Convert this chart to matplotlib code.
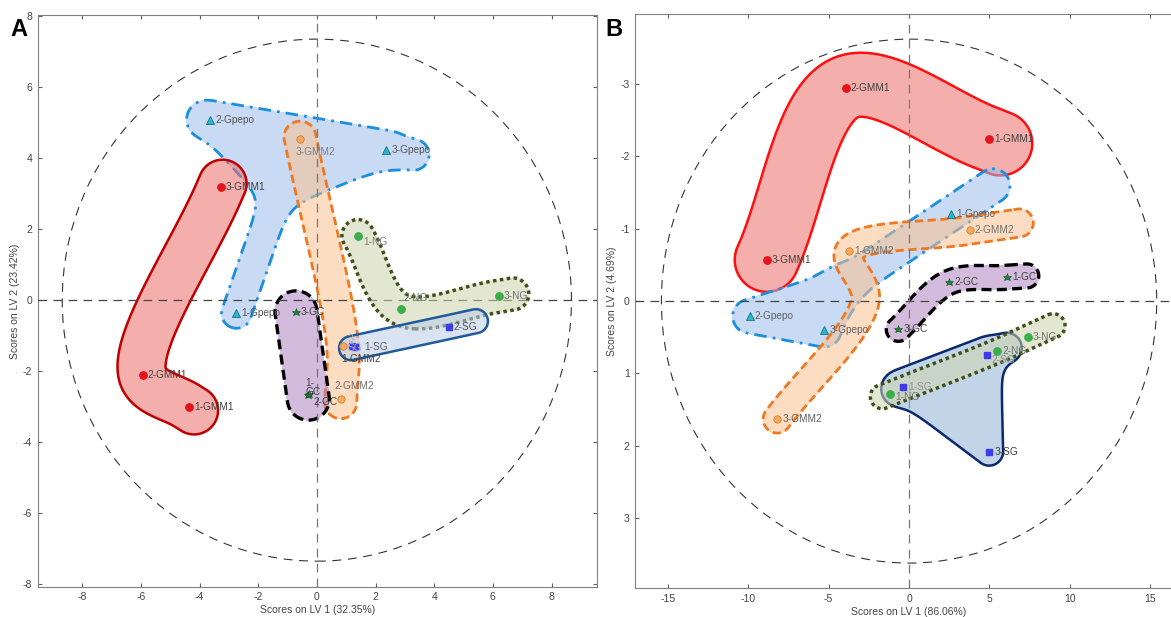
import numpy as np
import matplotlib
matplotlib.use("Agg")
import matplotlib.pyplot as plt
from matplotlib.patches import Ellipse
from matplotlib.path import Path

plt.rcParams['font.family'] = ['Liberation Sans', 'DejaVu Sans']
plt.rcParams['axes.unicode_minus'] = False

# ---- data ----
labels = ['1-GMM1', '2-GMM1', '3-GMM1', '1-GMM2', '2-GMM2', '3-GMM2',
          '1-Gpepo', '2-Gpepo', '3-Gpepo', '1-GC', '2-GC', '3-GC',
          '1-NG', '2-NG', '3-NG', '1-SG', '2-SG', '3-SG']

A_x = [-4.36, -5.94, -3.27, 0.88, 0.82, -0.56,
       -2.74, -3.64, 2.37, -0.31, -0.26, -0.71,
       1.40, 2.86, 6.21, 1.30, 4.49, 1.20]
A_y = [-3.02, -2.12, 3.18, -1.30, -2.78, 4.54,
       -0.37, 5.07, 4.23, -2.68, -2.64, -0.33,
       1.82, -0.26, 0.11, -1.33, -0.76, -1.30]

B_x = [4.98, -3.94, -8.85, -3.73, 3.78, -8.20,
       2.63, -9.91, -5.28, 6.08, 2.49, -0.67,
       -1.20, 5.48, 7.37, -0.35, 4.84, 4.98]
B_y = [-2.24, -2.95, -0.57, -0.69, -0.98, 1.63,
       -1.21, 0.21, 0.40, -0.33, -0.26, 0.39,
       1.28, 0.69, 0.50, 1.19, 0.75, 2.08]

A_ellipse = (8.68, 7.36)
B_ellipse = (15.4, 3.62)

A_xlabel = 'Scores on LV 1 (32.35%)'
A_ylabel = 'Scores on LV 2 (23.42%)'
B_xlabel = 'Scores on LV 1 (86.06%)'
B_ylabel = 'Scores on LV 2 (4.69%)'

# how each group outline runs through its samples ('mean' = group centre,
# a list that ends where it starts is a filled polygon)
A_paths = {'Gpepo': [['2-Gpepo', '3-Gpepo'],
                     ['2-Gpepo', '3-Gpepo', 'mean', '2-Gpepo'],
                     ['mean', '1-Gpepo']],
           'GMM1': [['3-GMM1', '2-GMM1', '1-GMM1']],
           'GMM2': [['3-GMM2', '1-GMM2', '2-GMM2']],
           'GC': [['3-GC', '1-GC']],
           'NG': [['1-NG', '2-NG', '3-NG']],
           'SG': [['1-SG', '2-SG']]}
B_paths = {'GMM1': [['3-GMM1', '2-GMM1', '1-GMM1']],
           'Gpepo': [['mean', '1-Gpepo'],
                     ['2-Gpepo', '3-Gpepo', 'mean', '2-Gpepo']],
           'GMM2': [['3-GMM2', 'mean', '1-GMM2', '2-GMM2']],
           'GC': [['3-GC', '2-GC', '1-GC']],
           'SG': [['1-SG', '2-SG'], ['1-SG', '2-SG', '3-SG', '1-SG']],
           'NG': [['1-NG', '2-NG', '3-NG']]}

# ---- styles ----
MARK = {
    'GMM1': dict(marker='o', ms=5.3, mfc='#e3141b', mec='#e3141b'),
    'GMM2': dict(marker='o', ms=5.3, mfc='#f6a95c', mec='#c8843a', mew=0.6),
    'Gpepo': dict(marker='^', ms=5.3, mfc='#2cb8cc', mec='#176f86', mew=0.6),
    'GC': dict(marker='*', ms=6.2, mfc='#1e8a36', mec='#0d4a1a', mew=0.4),
    'NG': dict(marker='o', ms=5.3, mfc='#3aae4a', mec='#3aae4a'),
    'SG': dict(marker='s', ms=4.6, mfc='#3c3cea', mec='#3c3cea'),
}

DASHDOT = (0, (4.5, 2.2, 1.0, 2.2))
DASHED = (0, (3, 1.6))
DOTTED = (0, (1, 1))

# radius px, fill, edge, linestyle, lw, end extension px (start, end)
A_blob = {
    'Gpepo': (15, '#9bbcec', '#1a8fe0', DASHDOT, 2.0, (6, 28)),
    'GMM1': (24, '#ec6e69', '#c00000', 'solid', 1.8, (4, 6)),
    'GMM2': (16, '#fcc290', '#f07820', DASHED, 2.0, (2, 4)),
    'GC': (21, '#b083c2', '#000000', DASHED, 2.4, (0, 4)),
    'NG': (16, '#cdd5ad', '#3f4f1a', DOTTED, 2.5, (0, 14)),
    'SG': (12, '#bccde9', '#1f5a9a', 'solid', 1.8, (4, 28)),
}
B_blob = {
    'GMM1': (32, '#ec6e69', '#ff1010', 'solid', 1.8, (0, 12)),
    'Gpepo': (17, '#9bbcec', '#1a8fe0', DASHDOT, 2.0, (0, 50)),
    'GMM2': (14, '#fcc290', '#f07820', DASHED, 2.0, (0, 50)),
    'GC': (12, '#b083c2', '#000000', DASHED, 2.4, (0, 20)),
    'SG': (14, '#91b1d6', '#0b2a6e', 'solid', 1.8, (6, 22)),
    'NG': (12, '#cdd5ad', '#3f4f1a', DOTTED, 2.5, (8, 28)),
}

# label offsets in pixels: (dx, dy-down)
A_off = {'3-GMM2': (-5, 13), '1-GMM2': (-1, 13), '2-GMM2': (-6, -12.5),
         '1-NG': (5, 6), '2-NG': (3, -11), '1-SG': (9, 0),
         '1-GC': (-2, -7.5), '2-GC': (4, 8), '3-SG': (-4, -3)}
B_off = {'2-SG': (4.5, 5), '1-NG': (6, 3.5)}
A_text = {'1-GC': '1-\nGC', '3-SG': '3-\nSG'}
A_col = {'3-GMM2': '#808080', '1-NG': '#808080', '2-NG': '#707070',
         '3-NG': '#707070', '2-GMM2': '#707070', '1-Gpepo': '#555555',
         '2-Gpepo': '#555555', '3-Gpepo': '#555555', '3-SG': '#b0b0b0',
         '1-SG': '#606060', '2-SG': '#555555'}
B_col = {'2-SG': '#909090', '1-SG': '#909090', '1-NG': '#707070',
         '2-NG': '#707070', '3-NG': '#707070', '1-Gpepo': '#606060',
         '2-Gpepo': '#606060', '3-Gpepo': '#606060', '2-GMM2': '#707070',
         '1-GMM2': '#707070', '3-GMM2': '#606060'}

W, H = 1171, 617
fig = plt.figure(figsize=(W / 100, H / 100), dpi=100)


def px_axes(l, t, r, b):
    return fig.add_axes([l / W, 1 - b / H, (r - l) / W, (b - t) / H])


def spline(P, n=40, alpha=0.5):
    # centripetal Catmull-Rom through the points (pixel space)
    if len(P) == 2:
        return np.vstack([P[0] + (P[1] - P[0]) * s for s in np.linspace(0, 1, n)])
    Q = np.vstack([2 * P[0] - P[1], P, 2 * P[-1] - P[-2]])
    out = []
    for i in range(len(Q) - 3):
        p0, p1, p2, p3 = Q[i:i + 4]
        t0 = 0.0
        t1 = t0 + np.hypot(*(p1 - p0)) ** alpha + 1e-6
        t2 = t1 + np.hypot(*(p2 - p1)) ** alpha + 1e-6
        t3 = t2 + np.hypot(*(p3 - p2)) ** alpha + 1e-6
        t = np.linspace(t1, t2, n)[:, None]
        A1 = (t1 - t) / (t1 - t0) * p0 + (t - t0) / (t1 - t0) * p1
        A2 = (t2 - t) / (t2 - t1) * p1 + (t - t1) / (t2 - t1) * p2
        A3 = (t3 - t) / (t3 - t2) * p2 + (t - t2) / (t3 - t2) * p3
        B1 = (t2 - t) / (t2 - t0) * A1 + (t - t0) / (t2 - t0) * A2
        B2 = (t3 - t) / (t3 - t1) * A2 + (t - t1) / (t3 - t1) * A3
        out.append((t2 - t) / (t2 - t1) * B1 + (t - t1) / (t2 - t1) * B2)
    return np.vstack(out)


def seg_dist(G, C):
    best = np.full(len(G), np.inf)
    for a, b in zip(C[:-1], C[1:]):
        ab = b - a
        L = ab @ ab
        if L < 1e-9:
            continue
        t = np.clip(((G - a) @ ab) / L, 0, 1)
        d = np.hypot(*(G - (a + t[:, None] * ab)).T)
        best = np.minimum(best, d)
    return best


def blob(ax, lines, r, fc, ec, ls, lw, ext, z, k=7.0):
    x0, x1 = sorted(ax.get_xlim())
    y0, y1 = sorted(ax.get_ylim())
    X, Y = np.meshgrid(np.linspace(x0, x1, 420), np.linspace(y0, y1, 420))
    G = ax.transData.transform(np.column_stack([X.ravel(), Y.ravel()]))
    acc = np.zeros(len(G))
    for j, (xs, ys, closed) in enumerate(lines):
        P = ax.transData.transform(np.column_stack([xs, ys]))
        if closed:
            d = seg_dist(G, P)
            d[Path(P).contains_points(G)] = 0.0
        else:
            C = spline(P)
            if j == 0:
                d0 = C[0] - C[3]
                C = np.vstack([C[0] + d0 / np.hypot(*d0) * ext[0], C])
                d1 = C[-1] - C[-4]
                C = np.vstack([C, C[-1] + d1 / np.hypot(*d1) * ext[1]])
            d = seg_dist(G, C)
        acc += np.exp(-d / k)
    Z = (-k * np.log(acc + 1e-300)).reshape(X.shape)
    ax.contourf(X, Y, Z, levels=[-1e9, r], colors=[fc], alpha=0.55, zorder=z)
    ax.contour(X, Y, Z, levels=[r], colors=[ec], linestyles=[ls],
               linewidths=lw, zorder=z + 0.5)


def panel(ax, xs, ys, ell, paths, blobs, off, texts, cols):
    ax.add_patch(Ellipse((0, 0), 2 * ell[0], 2 * ell[1], fill=False,
                         ec='#333333', lw=0.8, ls=(0, (8, 6)), zorder=1))
    ax.axhline(0, color='#444444', lw=0.9, ls=(0, (7, 5)), zorder=6)
    ax.axvline(0, color='#777777', lw=0.9, ls=(0, (7, 5)), zorder=6)
    idx = {lab: i for i, lab in enumerate(labels)}
    for n, (g, polys) in enumerate(paths.items()):
        members = [i for i, lab in enumerate(labels) if lab.split('-')[1] == g]
        cx = np.mean([xs[i] for i in members])
        cy = np.mean([ys[i] for i in members])
        lines = []
        for names in polys:
            px = [cx if s == 'mean' else xs[idx[s]] for s in names]
            py = [cy if s == 'mean' else ys[idx[s]] for s in names]
            lines.append((px, py, names[0] == names[-1]))
        r, fc, ec, ls, lw, ext = blobs[g]
        blob(ax, lines, r, fc, ec, ls, lw, ext, z=2 + n)
    for lab, x, y in zip(labels, xs, ys):
        st = MARK[lab.split('-')[1]]
        ax.plot(x, y, ls='none', zorder=10, **st)
        dx, dy = off.get(lab, (5, 0))
        ax.annotate(texts.get(lab, lab), (x, y), xytext=(dx * 0.72, -dy * 0.72),
                    textcoords='offset points', ha='left', va='center',
                    fontsize=7.3, color=cols.get(lab, '#404040'), zorder=11,
                    linespacing=0.9)
    for sp in ax.spines.values():
        sp.set_color('#808080')
    ax.tick_params(direction='in', length=3, width=0.8, color='#606060',
                   labelsize=7.5, labelcolor='#444444', top=True, right=True, pad=4)


axA = px_axes(37.6, 15, 596.7, 586.7)
axA.set_xlim(-9.52, 9.54)
axA.set_ylim(-8.08, 8.04)
axA.set_xticks(np.arange(-8, 9, 2))
axA.set_yticks(np.arange(-8, 9, 2))
panel(axA, A_x, A_y, A_ellipse, A_paths, A_blob, A_off, A_text, A_col)
axA.set_xlabel(A_xlabel, fontsize=7.5, color='#444444', labelpad=2)
axA.set_ylabel(A_ylabel, fontsize=7.5, color='#444444', labelpad=2)

axB = px_axes(635.2, 13.8, 1181.3, 588.4)
axB.set_xlim(-17.03, 16.93)
axB.set_ylim(3.97, -3.97)
axB.set_xticks(np.arange(-15, 16, 5))
axB.set_yticks(np.arange(-3, 4, 1))
panel(axB, B_x, B_y, B_ellipse, B_paths, B_blob, B_off, {}, B_col)
axB.set_xlabel(B_xlabel, fontsize=7.5, color='#444444', labelpad=2)
axB.set_ylabel(B_ylabel, fontsize=7.5, color='#444444', labelpad=2)

fig.text(10 / W, 1 - 29 / H, 'A', fontsize=17, fontweight='bold', va='center')
fig.text(605 / W, 1 - 30 / H, 'B', fontsize=17, fontweight='bold', va='center')

fig.savefig('out.png', dpi=100)
